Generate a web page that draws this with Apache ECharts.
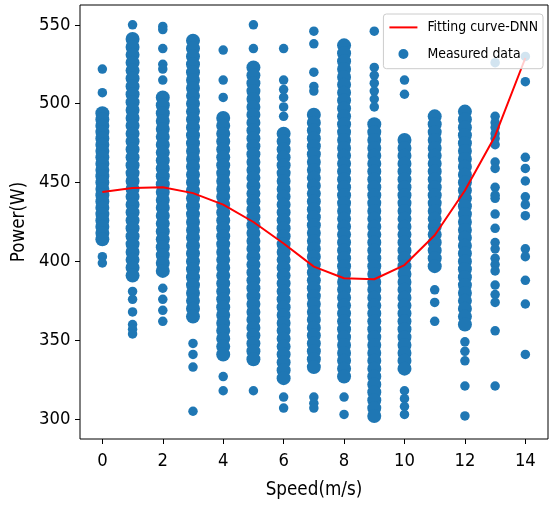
<!DOCTYPE html>
<html>
<head>
<meta charset="utf-8">
<script src="https://cdn.jsdelivr.net/npm/echarts@6/dist/echarts.min.js"></script>
<style>html,body{margin:0;padding:0;background:#fff}#c{width:551px;height:505px}</style>
</head>
<body>
<div id="c"></div>
<script>
var speeds = [0,1,2,3,4,5,6,7,8,9,10,11,12,13,14];
var xTicks = [0,2,4,6,8,10,12,14];
var yTicks = [300,350,400,450,500,550];

// Fitting curve (DNN) read at each speed
var fitPower = [444,446.6,447,443.3,436,425,411.4,396.7,389.3,388.7,397.7,416.6,445,479.6,529];

// Dense cores of the measured strips (Power, W), per speed
var core0 = [494,490,486,482,478,474,470,466,462,458,454,450,446,442,438,434,430,426,422,418,414];
var core1 = [541,536,531,526,521,516,511,506,501,496,491,486,481,476,471,466,461,456,451,446,441,436,431,426,421,416,411,406,401,396,391];
var core2 = [504,499,494,489,484,479,474,469,464,459,454,449,444,439,434,429,424,419,414,409,404,399,394];
var core3 = [540,535,530,525,520,515,510,505,500,495,490,485,480,475,470,465,460,455,450,445,440,435,430,425,420,415,410,405,400,395,390,385,380,375,370,365];
var core4 = [491,486,481,476,471,466,461,456,451,446,441,436,431,426,421,416,411,406,401,396,391,386,381,376,371,366,361,356,351,346,341];
var core5 = [523,518,513,508,503,498,493,488,483,478,473,468,463,458,453,448,443,438,433,428,423,418,413,408,403,398,393,388,383,378,373,368,363,358,353,348,343,338];
var core6 = [481,476,471,466,461,456,451,446,441,436,431,426,421,416,411,406,401,396,391,386,381,376,371,366,361,356,351,346,341,336,331,326];
var core7 = [493,488,483,478,473,468,463,458,453,448,443,438,433,428,423,418,413,408,403,398,393,388,383,378,373,368,363,358,353,348,343,338,333];
var core8 = [537,532,527,522,517,512,507,502,497,492,487,482,477,472,467,462,457,452,447,442,437,432,427,422,417,412,407,402,397,392,387,382,377,372,367,362,357,352,347,342,337,332,327];
var core9 = [487,482,477,472,467,462,457,452,447,442,437,432,427,422,417,412,407,402,397,392,387,382,377,372,367,362,357,352,347,342,337,332,327,322,317,312,307,302];
var core10 = [477,472,467,462,457,452,447,442,437,432,427,422,417,412,407,402,397,392,387,382,377,372,367,362,357,352,347,342,337,332];
var core11 = [492,487,482,477,472,467,462,457,452,447,442,437,432,427,422,417,412,407,402,397];
var core12 = [495,490,485,480,475,470,465,460,455,450,445,440,435,430,425,420,415,410,405,400,395,390,385,380,375,370,365,360];
var core13 = [];
var core14 = [];

// Isolated measured points, per speed
var out0 = [522,507,403,399];
var out1 = [550,381,376,368,360,357,354];
var out2 = [549,547,535,525,522,515,383,376,369,362];
var out3 = [348,341,333,305];
var out4 = [534,515,504,327,318];
var out5 = [550,535,318];
var out6 = [535,515,509,504,498,492,314,307];
var out7 = [546,538,520,511,508,314,310,307];
var out8 = [314,303];
var out9 = [546,523,518,513,508,503,498];
var out10 = [515,506,318,313,308,303];
var out11 = [382,374,362];
var out12 = [349,343,337,321,302];
var out13 = [526,492,488,485,481,478,474,463,459,447,442,440,430,421,412,408,402,398,394,385,379,374,356,321];
var out14 = [530,514,466,459,451,441,436,429,408,403,388,373,341];

var cores = [core0,core1,core2,core3,core4,core5,core6,core7,core8,core9,core10,core11,core12,core13,core14];
var outs = [out0,out1,out2,out3,out4,out5,out6,out7,out8,out9,out10,out11,out12,out13,out14];

var coreData = [], outData = [], fitData = [];
speeds.forEach(function (s, i) {
  cores[i].forEach(function (v) { coreData.push([s, v]); });
  outs[i].forEach(function (v) { outData.push([s, v]); });
  fitData.push([s, fitPower[i]]);
});

var FONT = "'DejaVu Sans Condensed', 'DejaVu Sans', sans-serif";
var BLUE = '#1f77b4';
var chart = echarts.init(document.getElementById('c'), null, {renderer: 'canvas'});
chart.setOption({
  animation: false,
  backgroundColor: '#fff',
  grid: {left: 80, right: 3, top: 5, bottom: 63, show: true, borderColor: '#000', borderWidth: 1, backgroundColor: 'transparent'},
  legend: {
    data: [
      {name: 'Fitting curve-DNN', itemStyle: {color: 'rgba(0,0,0,0)', borderColor: 'rgba(0,0,0,0)'}},
      {name: 'Measured data'}
    ],
    orient: 'vertical', right: 8, top: 14,
    itemWidth: 28, itemHeight: 10, itemGap: 12.6,
    padding: [6.4, 5, 7.7, 5],
    backgroundColor: 'rgba(255,255,255,0.8)',
    borderColor: '#cccccc', borderWidth: 1, borderRadius: 3,
    textStyle: {fontFamily: FONT, fontSize: 13.9, color: '#000', lineHeight: 14, padding: [0, 0, 0, 5]}
  },
  xAxis: {
    type: 'value', min: -0.74, max: 14.75,
    name: 'Speed(m/s)', nameLocation: 'middle', nameGap: 42,
    nameTextStyle: {fontFamily: FONT, fontSize: 18.7, color: '#000'},
    axisLine: {show: false, onZero: false},
    axisTick: {show: true, length: 5, lineStyle: {color: '#000', width: 1}, customValues: xTicks},
    axisLabel: {fontFamily: FONT, fontSize: 18.3, color: '#000', margin: 13, customValues: xTicks},
    splitLine: {show: false}
  },
  yAxis: {
    type: 'value', min: 287.4, max: 562.6,
    name: 'Power(W)', nameLocation: 'middle', nameGap: 45, nameRotate: 90,
    nameTextStyle: {fontFamily: FONT, fontSize: 18.7, color: '#000'},
    axisLine: {show: false, onZero: false},
    axisTick: {show: true, length: 5, lineStyle: {color: '#000', width: 1}, customValues: yTicks},
    axisLabel: {fontFamily: FONT, fontSize: 18.3, color: '#000', margin: 9.5, customValues: yTicks},
    splitLine: {show: false}
  },
  series: [
    {name: 'Measured data', type: 'scatter', data: coreData, symbol: 'circle', symbolSize: [14, 14],
     itemStyle: {color: BLUE, opacity: 1}, z: 2, silent: true},
    {name: 'Measured data', type: 'scatter', data: outData, symbol: 'circle', symbolSize: 9.5,
     itemStyle: {color: BLUE, opacity: 1}, z: 2, silent: true},
    {name: 'Fitting curve-DNN', type: 'line', data: fitData, symbol: 'none', smooth: false,
     lineStyle: {color: '#ff0000', width: 2}, itemStyle: {color: '#ff0000'}, z: 3, silent: true}
  ]
});
</script>
</body>
</html>
